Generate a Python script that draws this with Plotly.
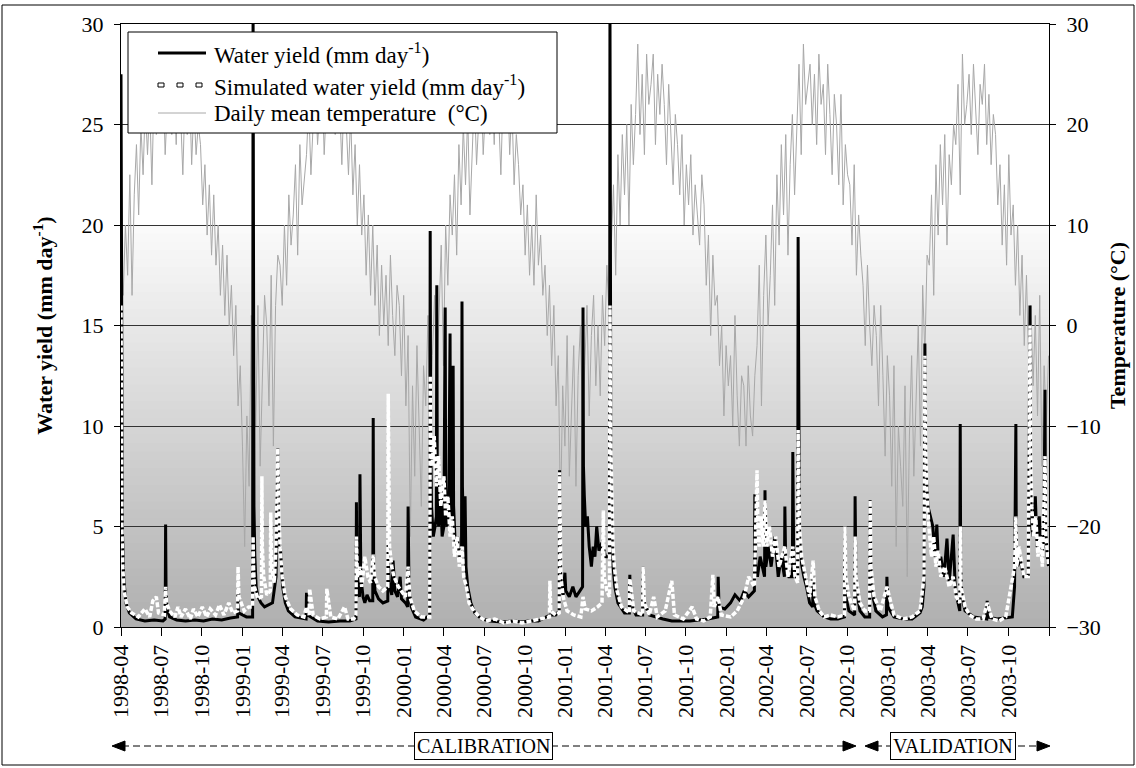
import plotly.graph_objects as go
import pandas as pd

# ---------------- data ----------------
# daily mean temperature (deg C), sampled every 5 days from 1998-04-01
temp_start = "1998-04-01"
temperature = [
    6, 3, 10, 5, 15, 3,
    13, 18, 11, 20, 15, 22,
    17, 22, 14, 24, 19, 21,
    20, 25, 17, 23, 27, 19,
    24, 18, 26, 21, 15, 23,
    19, 24, 16, 22, 17, 20,
    18, 12, 16, 9, 14, 7,
    13, 6, 10, 3, 8, 1,
    7, 0, 4, -3, 2, -8,
    -4, -12, -22, -9, -16, 1,
    -2, -10, 2, -14, -5, 3,
    0, -8, 5, -12, 2, 7,
    6, 2, 10, 4, 13, 8,
    11, 16, 7, 18, 12, 15,
    17, 22, 15, 20, 24, 18,
    21, 25, 17, 23, 27, 20,
    24, 19, 26, 22, 16, 23,
    20, 15, 21, 13, 18, 10,
    16, 9, 13, 5, 11, 3,
    10, 2, 8, -1, 6, 0,
    5, -2, 7, 1, -3, 4,
    2, -5, 3, -8, -1, -21,
    -6, -15, -2, -10, -18, -4,
    -8, 1, -12, -3, 3, -6,
    2, 8, -4, 10, 4, 13,
    9, 15, 7, 18, 12, 20,
    14, 21, 11, 18, 23, 16,
    20, 25, 17, 22, 26, 19,
    24, 18, 26, 21, 15, 23,
    20, 24, 17, 22, 14, 19,
    16, 11, 14, 7, 12, 5,
    10, 4, 13, 6, 9, 3,
    6, -1, 4, -4, 2, -8,
    -3, -19, -6, -12, -1, -15,
    -9, -2, -16, -5, 0, -10,
    -4, 2, -9, -1, 3, -6,
    0, -7, 3, -2, 6, 1,
    8, 14, 5, 17, 10, 19,
    13, 20, 10, 22, 16, 21,
    28, 19, 25, 17, 27, 22,
    24, 27, 18, 25, 21, 26,
    22, 16, 24, 19, 14, 21,
    18, 13, 19, 10, 16, 12,
    17, 9, 14, 11, 8, 15,
    12, 4, 9, -1, 7, 2,
    3, -4, 0, -9, -2, -6,
    -3, -10, 1, -7, -12, -5,
    -6, -12, -4, -9, -11, -5,
    -2, 6, -8, 3, 9, 0,
    5, 12, 2, 15, 8, 18,
    11, 19, 7, 16, 21, 13,
    20, 26, 17, 28, 22, 24,
    26, 20, 25, 18, 27, 22,
    24, 17, 26, 21, 15, 23,
    20, 14, 23, 12, 18, 15,
    14, 8, 16, 5, 11, 7,
    4, -2, 6, 0, -4, 2,
    -1, -8, 2, -5, -13, -3,
    -7, -16, -4, -22, -10, -14,
    -18, -6, -25, -11, -3, -15,
    -8, 0, -12, 4, -3, 7,
    6, 13, 3, 16, 9, 18,
    12, 19, 8, 17, 14, 20,
    18, 24, 13, 27, 20, 22,
    25, 19, 26, 21, 17, 24,
    22, 26, 18, 23, 16, 21,
    19, 12, 16, 8, 14, 6,
    17, 9, 12, 4, 10, 1,
    7, -2, 5, -4, 2, -6,
    1, -9, 3, -14, -4, -10,
    -3,
]

# observed water yield (mm/day)
observed = [
    ("1998-04-01", 27.5), ("1998-04-02", 12), ("1998-04-04", 5), ("1998-04-07", 2.5),
    ("1998-04-12", 1.2), ("1998-04-20", 0.7), ("1998-05-05", 0.4), ("1998-05-25", 0.3),
    ("1998-06-15", 0.35), ("1998-07-05", 0.3), ("1998-07-10", 0.4), ("1998-07-11", 5.1),
    ("1998-07-12", 1.8), ("1998-07-14", 0.9), ("1998-07-20", 0.5), ("1998-08-05", 0.35),
    ("1998-08-25", 0.3), ("1998-09-15", 0.35), ("1998-10-05", 0.3), ("1998-10-25", 0.4),
    ("1998-11-15", 0.35), ("1998-12-05", 0.45), ("1998-12-21", 0.5), ("1998-12-22", 1.8),
    ("1998-12-23", 0.7), ("1999-01-10", 0.5), ("1999-01-24", 0.5), ("1999-01-25", 31),
    ("1999-01-26", 13), ("1999-01-27", 6), ("1999-01-29", 3.5), ("1999-02-01", 2.0),
    ("1999-02-05", 1.5), ("1999-02-12", 1.2), ("1999-02-20", 1.0), ("1999-03-10", 1.2),
    ("1999-03-18", 2.5), ("1999-03-22", 8.9), ("1999-03-24", 4), ("1999-03-28", 3.9),
    ("1999-04-02", 2.0), ("1999-04-08", 1.2), ("1999-04-15", 0.8), ("1999-04-30", 0.5),
    ("1999-05-25", 0.4), ("1999-05-26", 1.7), ("1999-05-28", 0.6), ("1999-06-20", 0.3),
    ("1999-07-15", 0.25), ("1999-08-10", 0.3), ("1999-09-01", 0.3), ("1999-09-15", 0.4),
    ("1999-09-16", 6.2), ("1999-09-17", 2.5), ("1999-09-20", 1.8), ("1999-09-23", 1.5),
    ("1999-09-24", 7.6), ("1999-09-26", 2.5), ("1999-10-01", 1.5), ("1999-10-05", 1.2),
    ("1999-10-10", 1.6), ("1999-10-16", 1.3), ("1999-10-23", 1.3), ("1999-10-24", 10.4),
    ("1999-10-25", 3), ("1999-10-28", 1.8), ("1999-11-05", 1.4), ("1999-11-15", 1.2),
    ("1999-11-26", 1.3), ("1999-11-27", 4.2), ("1999-11-29", 2.2), ("1999-12-05", 1.6),
    ("1999-12-08", 3.3), ("1999-12-12", 1.8), ("1999-12-18", 1.5), ("1999-12-24", 2.5),
    ("1999-12-27", 1.4), ("2000-01-05", 1.2), ("2000-01-10", 1.0), ("2000-01-11", 6.0),
    ("2000-01-13", 2.0), ("2000-01-18", 1.0), ("2000-01-28", 0.5), ("2000-02-15", 0.35),
    ("2000-02-29", 0.6), ("2000-03-01", 19.7), ("2000-03-02", 10), ("2000-03-04", 6),
    ("2000-03-08", 4.5), ("2000-03-12", 5), ("2000-03-15", 5.5), ("2000-03-16", 17.0),
    ("2000-03-17", 8), ("2000-03-20", 5), ("2000-03-25", 6.5), ("2000-03-28", 4.5),
    ("2000-04-01", 5), ("2000-04-04", 15.9), ("2000-04-05", 7), ("2000-04-08", 5),
    ("2000-04-12", 6), ("2000-04-15", 14.6), ("2000-04-16", 6), ("2000-04-20", 5.5),
    ("2000-04-22", 13), ("2000-04-23", 6), ("2000-04-27", 4), ("2000-05-02", 4.5),
    ("2000-05-06", 3.5), ("2000-05-11", 4), ("2000-05-12", 16.2), ("2000-05-13", 7),
    ("2000-05-16", 4), ("2000-05-19", 6.5), ("2000-05-21", 3), ("2000-05-25", 2),
    ("2000-06-01", 1.2), ("2000-06-10", 0.7), ("2000-06-25", 0.4), ("2000-07-15", 0.3),
    ("2000-08-10", 0.25), ("2000-09-05", 0.3), ("2000-09-25", 0.25), ("2000-10-10", 0.3),
    ("2000-11-01", 0.3), ("2000-11-27", 0.6), ("2000-12-10", 0.6), ("2000-12-18", 0.8),
    ("2000-12-19", 7.8), ("2000-12-20", 3.5), ("2000-12-22", 2), ("2000-12-27", 1.6),
    ("2000-12-31", 2.7), ("2001-01-02", 1.8), ("2001-01-10", 1.5), ("2001-01-18", 2.0),
    ("2001-01-25", 1.5), ("2001-02-02", 1.8), ("2001-02-09", 2.0), ("2001-02-10", 15.9),
    ("2001-02-11", 8), ("2001-02-13", 6.5), ("2001-02-16", 5), ("2001-02-20", 5.5),
    ("2001-02-24", 4), ("2001-03-01", 3), ("2001-03-05", 4), ("2001-03-09", 3.5),
    ("2001-03-13", 5), ("2001-03-18", 3.8), ("2001-03-25", 4.2), ("2001-04-02", 3.5),
    ("2001-04-11", 3.5), ("2001-04-12", 31), ("2001-04-13", 14), ("2001-04-14", 8),
    ("2001-04-16", 5), ("2001-04-19", 3), ("2001-04-23", 2), ("2001-04-30", 1.2),
    ("2001-05-15", 0.7), ("2001-05-26", 0.7), ("2001-05-27", 2.6), ("2001-05-28", 1.2),
    ("2001-06-10", 0.6), ("2001-06-25", 0.6), ("2001-06-26", 3.0), ("2001-06-27", 1.3),
    ("2001-07-10", 0.6), ("2001-07-25", 0.5), ("2001-08-10", 0.4), ("2001-08-30", 0.3),
    ("2001-09-20", 0.3), ("2001-10-10", 0.3), ("2001-11-20", 0.4), ("2001-12-12", 0.5),
    ("2001-12-13", 2.5), ("2001-12-15", 1), ("2001-12-28", 0.9), ("2002-01-10", 1.2),
    ("2002-01-20", 1.6), ("2002-02-01", 1.3), ("2002-02-10", 1.8), ("2002-02-20", 1.5),
    ("2002-03-05", 1.8), ("2002-03-06", 6.6), ("2002-03-08", 3), ("2002-03-12", 2.5),
    ("2002-03-18", 3.5), ("2002-03-28", 2.5), ("2002-03-29", 6.8), ("2002-03-31", 3),
    ("2002-04-06", 4), ("2002-04-12", 3), ("2002-04-20", 4.5), ("2002-04-28", 2.5),
    ("2002-05-05", 3.5), ("2002-05-12", 2.5), ("2002-05-13", 6.0), ("2002-05-15", 3),
    ("2002-05-22", 2.5), ("2002-05-30", 2.5), ("2002-05-31", 8.7), ("2002-06-02", 3.5),
    ("2002-06-08", 2.5), ("2002-06-11", 2.5), ("2002-06-12", 19.4), ("2002-06-13", 8),
    ("2002-06-15", 4.5), ("2002-06-20", 3.1), ("2002-06-25", 2.5), ("2002-07-01", 2.0),
    ("2002-07-08", 1.2), ("2002-07-15", 1.0), ("2002-07-16", 2.5), ("2002-07-18", 1.2),
    ("2002-07-25", 0.8), ("2002-08-10", 0.5), ("2002-08-25", 0.4), ("2002-09-10", 0.4),
    ("2002-09-25", 0.5), ("2002-09-26", 5.0), ("2002-09-28", 1.5), ("2002-10-05", 0.8),
    ("2002-10-18", 0.6), ("2002-10-19", 6.5), ("2002-10-21", 2), ("2002-10-30", 0.8),
    ("2002-11-10", 0.5), ("2002-11-21", 0.5), ("2002-11-22", 6.3), ("2002-11-24", 2),
    ("2002-12-05", 0.8), ("2002-12-20", 0.5), ("2002-12-29", 0.6), ("2002-12-30", 2.5),
    ("2003-01-01", 1.0), ("2003-01-15", 0.5), ("2003-02-05", 0.4), ("2003-02-25", 0.4),
    ("2003-03-15", 0.7), ("2003-03-20", 1.0), ("2003-03-24", 2), ("2003-03-26", 14.1),
    ("2003-03-27", 9), ("2003-03-28", 8), ("2003-04-02", 6), ("2003-04-08", 5.5),
    ("2003-04-13", 5.0), ("2003-04-18", 3.5), ("2003-04-22", 5.1), ("2003-04-26", 3),
    ("2003-05-01", 3.5), ("2003-05-08", 2.5), ("2003-05-15", 4.4), ("2003-05-20", 2.2),
    ("2003-05-29", 4.6), ("2003-06-03", 1.8), ("2003-06-13", 0.8), ("2003-06-14", 10.1),
    ("2003-06-15", 3), ("2003-06-18", 1.5), ("2003-06-25", 0.8), ("2003-07-15", 0.5),
    ("2003-08-13", 0.4), ("2003-08-14", 1.3), ("2003-08-16", 0.5), ("2003-09-05", 0.4),
    ("2003-10-10", 0.5), ("2003-10-15", 2), ("2003-10-18", 10.1), ("2003-10-19", 4),
    ("2003-10-22", 3), ("2003-10-26", 3.5), ("2003-11-05", 2.5), ("2003-11-15", 2.5),
    ("2003-11-19", 16.0), ("2003-11-20", 8), ("2003-11-22", 5), ("2003-11-26", 4.5),
    ("2003-12-01", 6.5), ("2003-12-05", 4), ("2003-12-10", 5.5), ("2003-12-15", 3.8),
    ("2003-12-20", 4), ("2003-12-23", 11.8), ("2003-12-24", 5), ("2003-12-28", 3.5),
    ("2003-12-31", 3),
]

# simulated water yield (mm/day)
simulated = [
    ("1998-04-01", 16), ("1998-04-02", 8), ("1998-04-03", 5), ("1998-04-05", 3),
    ("1998-04-08", 1.8), ("1998-04-15", 1.0), ("1998-04-25", 0.7), ("1998-05-10", 0.5),
    ("1998-05-25", 0.9), ("1998-06-05", 0.5), ("1998-06-12", 1.3), ("1998-06-20", 1.5),
    ("1998-06-25", 0.7), ("1998-07-08", 0.6), ("1998-07-11", 2.0), ("1998-07-13", 1.2),
    ("1998-07-20", 0.8), ("1998-08-01", 0.5), ("1998-08-08", 1.0), ("1998-08-15", 0.5),
    ("1998-08-25", 0.9), ("1998-09-05", 0.4), ("1998-09-12", 0.9), ("1998-09-22", 0.5),
    ("1998-10-02", 1.0), ("1998-10-12", 0.5), ("1998-10-20", 0.9), ("1998-11-01", 0.6),
    ("1998-11-10", 1.1), ("1998-11-20", 0.6), ("1998-12-01", 1.2), ("1998-12-10", 0.7),
    ("1998-12-21", 0.8), ("1998-12-22", 3.0), ("1998-12-24", 1.5), ("1999-01-05", 0.8),
    ("1999-01-15", 1.0), ("1999-01-24", 1.0), ("1999-01-25", 4.5), ("1999-01-26", 3),
    ("1999-01-28", 2), ("1999-02-05", 1.4), ("1999-02-13", 1.5), ("1999-02-14", 7.5),
    ("1999-02-15", 4), ("1999-02-18", 2.5), ("1999-02-25", 1.6), ("1999-03-05", 1.8),
    ("1999-03-06", 5.7), ("1999-03-08", 3), ("1999-03-14", 2.2), ("1999-03-18", 4),
    ("1999-03-22", 8.9), ("1999-03-24", 6), ("1999-03-27", 4), ("1999-04-01", 2.5),
    ("1999-04-08", 1.5), ("1999-04-20", 0.9), ("1999-05-05", 0.6), ("1999-05-20", 0.5),
    ("1999-05-26", 1.0), ("1999-06-01", 0.6), ("1999-06-02", 1.9), ("1999-06-10", 0.6),
    ("1999-06-25", 0.4), ("1999-07-10", 0.5), ("1999-07-11", 1.9), ("1999-07-20", 0.5),
    ("1999-08-05", 0.4), ("1999-08-20", 1.0), ("1999-08-28", 0.4), ("1999-09-10", 0.4),
    ("1999-09-15", 0.6), ("1999-09-16", 4.5), ("1999-09-18", 2.5), ("1999-09-24", 3.0),
    ("1999-09-28", 2), ("1999-10-05", 3.5), ("1999-10-12", 2.5), ("1999-10-18", 2.2),
    ("1999-10-24", 3.6), ("1999-10-27", 2.5), ("1999-11-05", 2.0), ("1999-11-15", 1.8),
    ("1999-11-26", 2), ("1999-11-27", 11.6), ("1999-11-28", 6), ("1999-11-30", 4),
    ("1999-12-05", 3), ("1999-12-10", 2.5), ("1999-12-20", 2), ("2000-01-05", 1.5),
    ("2000-01-11", 3.0), ("2000-01-15", 1.5), ("2000-01-25", 0.8), ("2000-02-10", 0.5),
    ("2000-02-29", 0.5), ("2000-03-01", 12.5), ("2000-03-02", 10), ("2000-03-05", 8),
    ("2000-03-10", 9.5), ("2000-03-15", 7), ("2000-03-20", 8.5), ("2000-03-25", 6),
    ("2000-04-01", 7.5), ("2000-04-05", 5.5), ("2000-04-10", 6.5), ("2000-04-15", 4.5),
    ("2000-04-20", 5.5), ("2000-04-25", 3.5), ("2000-05-01", 4.5), ("2000-05-06", 3.0),
    ("2000-05-12", 4.0), ("2000-05-16", 2.5), ("2000-05-22", 2.0), ("2000-05-28", 1.2),
    ("2000-06-05", 0.9), ("2000-06-20", 0.5), ("2000-07-05", 0.3), ("2000-07-25", 0.4),
    ("2000-08-15", 0.2), ("2000-09-05", 0.3), ("2000-09-25", 0.2), ("2000-10-15", 0.3),
    ("2000-11-05", 0.4), ("2000-11-26", 0.5), ("2000-11-27", 2.3), ("2000-11-29", 0.8),
    ("2000-12-10", 0.6), ("2000-12-18", 0.7), ("2000-12-19", 7.7), ("2000-12-20", 4),
    ("2000-12-22", 2.5), ("2000-12-27", 1.5), ("2001-01-05", 0.8), ("2001-01-20", 0.6),
    ("2001-02-05", 0.5), ("2001-02-10", 1.5), ("2001-02-15", 0.9), ("2001-03-01", 0.8),
    ("2001-03-15", 1.0), ("2001-03-25", 1.2), ("2001-03-28", 5.8), ("2001-03-30", 2.5),
    ("2001-04-05", 1.8), ("2001-04-11", 1.5), ("2001-04-12", 16), ("2001-04-13", 12),
    ("2001-04-14", 9), ("2001-04-16", 6), ("2001-04-19", 4), ("2001-04-22", 3),
    ("2001-04-28", 1.8), ("2001-05-08", 1.0), ("2001-05-26", 0.7), ("2001-05-27", 2.4),
    ("2001-06-05", 0.8), ("2001-06-25", 0.6), ("2001-06-26", 3.0), ("2001-06-29", 1.2),
    ("2001-07-10", 0.6), ("2001-07-20", 1.5), ("2001-07-28", 0.5), ("2001-08-15", 0.8),
    ("2001-08-30", 2.3), ("2001-09-05", 0.6), ("2001-09-25", 0.4), ("2001-10-15", 1.0),
    ("2001-10-25", 0.4), ("2001-11-10", 0.3), ("2001-11-25", 0.5), ("2001-12-01", 2.6),
    ("2001-12-04", 1.0), ("2001-12-13", 1.5), ("2001-12-20", 0.6), ("2002-01-10", 0.5),
    ("2002-01-25", 0.8), ("2002-02-10", 1.5), ("2002-02-20", 2.5), ("2002-03-05", 2.0),
    ("2002-03-11", 7.8), ("2002-03-13", 5), ("2002-03-16", 4), ("2002-03-20", 5.5),
    ("2002-03-25", 4), ("2002-03-29", 6.3), ("2002-04-02", 4), ("2002-04-08", 5),
    ("2002-04-15", 3.5), ("2002-04-22", 4.5), ("2002-04-30", 3), ("2002-05-06", 3.5),
    ("2002-05-13", 4.0), ("2002-05-20", 2.5), ("2002-05-31", 4.0), ("2002-06-05", 2.5),
    ("2002-06-11", 2.2), ("2002-06-12", 9.8), ("2002-06-13", 7), ("2002-06-15", 5),
    ("2002-06-20", 3.5), ("2002-06-25", 3), ("2002-07-01", 2.2), ("2002-07-08", 1.5),
    ("2002-07-16", 3.3), ("2002-07-20", 1.5), ("2002-07-30", 0.8), ("2002-08-10", 0.5),
    ("2002-08-25", 0.6), ("2002-09-10", 0.5), ("2002-09-25", 0.6), ("2002-09-26", 5.0),
    ("2002-09-28", 2.5), ("2002-10-05", 1.5), ("2002-10-18", 0.8), ("2002-10-19", 4.5),
    ("2002-10-21", 2.5), ("2002-10-30", 1.2), ("2002-11-10", 0.8), ("2002-11-21", 0.8),
    ("2002-11-22", 6.3), ("2002-11-24", 3), ("2002-12-01", 1.5), ("2002-12-15", 0.8),
    ("2002-12-30", 2.0), ("2003-01-15", 0.6), ("2003-02-05", 0.4), ("2003-02-25", 0.5),
    ("2003-03-15", 0.8), ("2003-03-24", 2.5), ("2003-03-26", 13.5), ("2003-03-27", 10),
    ("2003-03-30", 7), ("2003-04-04", 5), ("2003-04-10", 3.5), ("2003-04-15", 4.5),
    ("2003-04-20", 3), ("2003-04-25", 3.8), ("2003-05-01", 2.5), ("2003-05-10", 3),
    ("2003-05-20", 2), ("2003-05-29", 2.5), ("2003-06-05", 1.5), ("2003-06-13", 1.2),
    ("2003-06-14", 5.0), ("2003-06-16", 2), ("2003-06-25", 1), ("2003-07-05", 0.6),
    ("2003-07-20", 0.4), ("2003-08-05", 0.4), ("2003-08-14", 1.2), ("2003-08-25", 0.4),
    ("2003-09-10", 0.3), ("2003-09-25", 0.5), ("2003-10-15", 3.0), ("2003-10-18", 5.5),
    ("2003-10-20", 3), ("2003-10-25", 4), ("2003-11-05", 2.5), ("2003-11-15", 2.5),
    ("2003-11-19", 15), ("2003-11-20", 9), ("2003-11-23", 6), ("2003-11-27", 4.5),
    ("2003-12-02", 5.5), ("2003-12-07", 3.5), ("2003-12-12", 4.5), ("2003-12-17", 3),
    ("2003-12-23", 8.5), ("2003-12-25", 4.5), ("2003-12-31", 3),
]

tick_dates = [
    "1998-04-01", "1998-07-01", "1998-10-01", "1999-01-01", "1999-04-01", "1999-07-01",
    "1999-10-01", "2000-01-01", "2000-04-01", "2000-07-01", "2000-10-01", "2001-01-01",
    "2001-04-01", "2001-07-01", "2001-10-01", "2002-01-01", "2002-04-01", "2002-07-01",
    "2002-10-01", "2003-01-01", "2003-04-01", "2003-07-01", "2003-10-01", "2004-01-01",
]
tick_labels = [
    "1998-04", "1998-07", "1998-10", "1999-01", "1999-04", "1999-07",
    "1999-10", "2000-01", "2000-04", "2000-07", "2000-10", "2001-01",
    "2001-04", "2001-07", "2001-10", "2002-01", "2002-04", "2002-07",
    "2002-10", "2003-01", "2003-04", "2003-07", "2003-10", " ",
]
water_ticks = [0, 5, 10, 15, 20, 25, 30]
temp_ticks = [-30, -20, -10, 0, 10, 20, 30]

legend_labels = [
    "Water yield (mm day<sup>-1</sup>)",
    "Simulated water yield (mm day<sup>-1</sup>)",
    "Daily mean temperature  (°C)",
]
period_labels = ["CALIBRATION", "VALIDATION"]

# ---------------- figure ----------------
FONT = "Liberation Serif"
temp_dates = pd.date_range(temp_start, periods=len(temperature), freq="5D")
obs_x = [d for d, v in observed]
obs_y = [v for d, v in observed]
sim_x = [d for d, v in simulated]
sim_y = [v for d, v in simulated]

fig = go.Figure()
fig.add_trace(go.Scatter(x=temp_dates, y=temperature, yaxis="y", mode="lines",
                         line=dict(color="#a8a8a8", width=1), hoverinfo="skip"))
fig.add_trace(go.Scatter(x=obs_x, y=obs_y, yaxis="y2", mode="lines",
                         line=dict(color="black", width=3)))
fig.add_trace(go.Scatter(x=sim_x, y=sim_y, yaxis="y2", mode="lines",
                         line=dict(color="white", width=3.5, dash="5px,2px")))

# plot geometry in pixels (for paper-coordinate decorations)
W, H = 1136, 768
L, R, T, B = 121, 87, 24, 141
PW, PH = W - L - R, H - T - B


def px(xp):
    return (xp - L) / PW


def py(yp):
    return (H - B - yp) / PH


shapes = []
# gradient background (lower two thirds of the plot area); stacked bands, no seams
n_bands = 48
c_bot, c_top = 176, 250
for i in range(n_bands):
    f = i / (n_bands - 1)
    c = int(round(c_bot + (c_top - c_bot) * f))
    shapes.append(dict(type="rect", xref="paper", yref="paper",
                       x0=0, x1=1, y0=(2 / 3) * i / n_bands, y1=2 / 3,
                       fillcolor=f"rgb({c},{c},{c})", line=dict(width=0), layer="below"))

# outer frame
shapes.append(dict(type="rect", xref="paper", yref="paper",
                   x0=px(2), x1=px(1134), y0=py(765), y1=py(5),
                   line=dict(color="black", width=1), fillcolor="rgba(0,0,0,0)", layer="above"))

# legend box
shapes.append(dict(type="rect", xref="paper", yref="paper",
                   x0=px(128), x1=px(557), y0=py(133), y1=py(32),
                   line=dict(color="black", width=1), fillcolor="white", layer="above"))
row_y = [53, 85, 113]
shapes.append(dict(type="line", xref="paper", yref="paper", x0=px(158), x1=px(206),
                   y0=py(row_y[0]), y1=py(row_y[0]), line=dict(color="black", width=3), layer="above"))
for sx in (161, 180, 199):
    shapes.append(dict(type="rect", xref="paper", yref="paper",
                       x0=px(sx - 3), x1=px(sx + 3), y0=py(row_y[1] + 2), y1=py(row_y[1] - 2),
                       line=dict(color="black", width=1), fillcolor="white", layer="above"))
shapes.append(dict(type="line", xref="paper", yref="paper", x0=px(158), x1=px(206),
                   y0=py(row_y[2]), y1=py(row_y[2]), line=dict(color="#a8a8a8", width=1), layer="above"))

# calibration / validation arrows
ay = 746
for x0, x1 in ((112, 856), (865, 1050)):
    shapes.append(dict(type="line", xref="paper", yref="paper", x0=px(x0 + 10), x1=px(x1 - 10),
                       y0=py(ay), y1=py(ay), line=dict(color="black", width=1, dash="7px,4px")))
    shapes.append(dict(type="path", xref="paper", yref="paper",
                       path=f"M {px(x0)} {py(ay)} L {px(x0 + 13)} {py(ay - 5)} L {px(x0 + 13)} {py(ay + 5)} Z",
                       fillcolor="black", line=dict(color="black", width=1)))
    shapes.append(dict(type="path", xref="paper", yref="paper",
                       path=f"M {px(x1)} {py(ay)} L {px(x1 - 13)} {py(ay - 5)} L {px(x1 - 13)} {py(ay + 5)} Z",
                       fillcolor="black", line=dict(color="black", width=1)))

annotations = []
for lab, yv in zip(legend_labels, row_y):
    annotations.append(dict(xref="paper", yref="paper", x=px(212), y=py(yv), text=lab,
                            showarrow=False, xanchor="left", yanchor="middle",
                            font=dict(family=FONT, size=23, color="black")))
for lab, cx in zip(period_labels, (483.5, 952.5)):
    annotations.append(dict(xref="paper", yref="paper", x=px(cx), y=py(ay), text=lab,
                            showarrow=False, xanchor="center", yanchor="middle",
                            bgcolor="white", bordercolor="black", borderwidth=1, borderpad=2,
                            font=dict(family=FONT, size=20, color="black")))

fig.update_layout(
    width=W, height=H,
    margin=dict(l=L, r=R, t=T, b=B, pad=0),
    paper_bgcolor="white", plot_bgcolor="rgba(0,0,0,0)",
    showlegend=False,
    font=dict(family=FONT, size=22, color="black"),
    shapes=shapes, annotations=annotations,
    xaxis=dict(type="date", range=["1998-04-01", "2004-01-01"],
               tickmode="array", tickvals=tick_dates, ticktext=tick_labels,
               tickangle=-90, ticks="outside", ticklen=8, tickcolor="black",
               showline=True, linecolor="black", linewidth=1, mirror=True,
               showgrid=False, zeroline=False,
               tickfont=dict(family=FONT, size=22, color="black")),
    yaxis=dict(side="right", range=[-30, 30], tickmode="array", tickvals=temp_ticks,
               ticks="outside", ticklen=6, tickcolor="black", ticklabelstandoff=6,
               showline=True, linecolor="black", linewidth=1, mirror=True,
               showgrid=True, gridcolor="#333333", gridwidth=1, zeroline=False,
               tickfont=dict(family=FONT, size=22, color="black"),
               title=dict(text="<b>Temperature (°C)</b>", standoff=9,
                          font=dict(family=FONT, size=22, color="black"))),
    yaxis2=dict(side="left", overlaying="y", range=[0, 30], tickmode="array", tickvals=water_ticks,
                ticks="outside", ticklen=6, tickcolor="black", ticklabelstandoff=6,
                showline=True, linecolor="black", linewidth=1,
                showgrid=False, zeroline=False,
                tickfont=dict(family=FONT, size=22, color="black"),
                title=dict(text="<b>Water yield (mm day<sup>-1</sup>)</b>", standoff=22,
                           font=dict(family=FONT, size=22, color="black"))),
)

fig.write_html("out.html")
